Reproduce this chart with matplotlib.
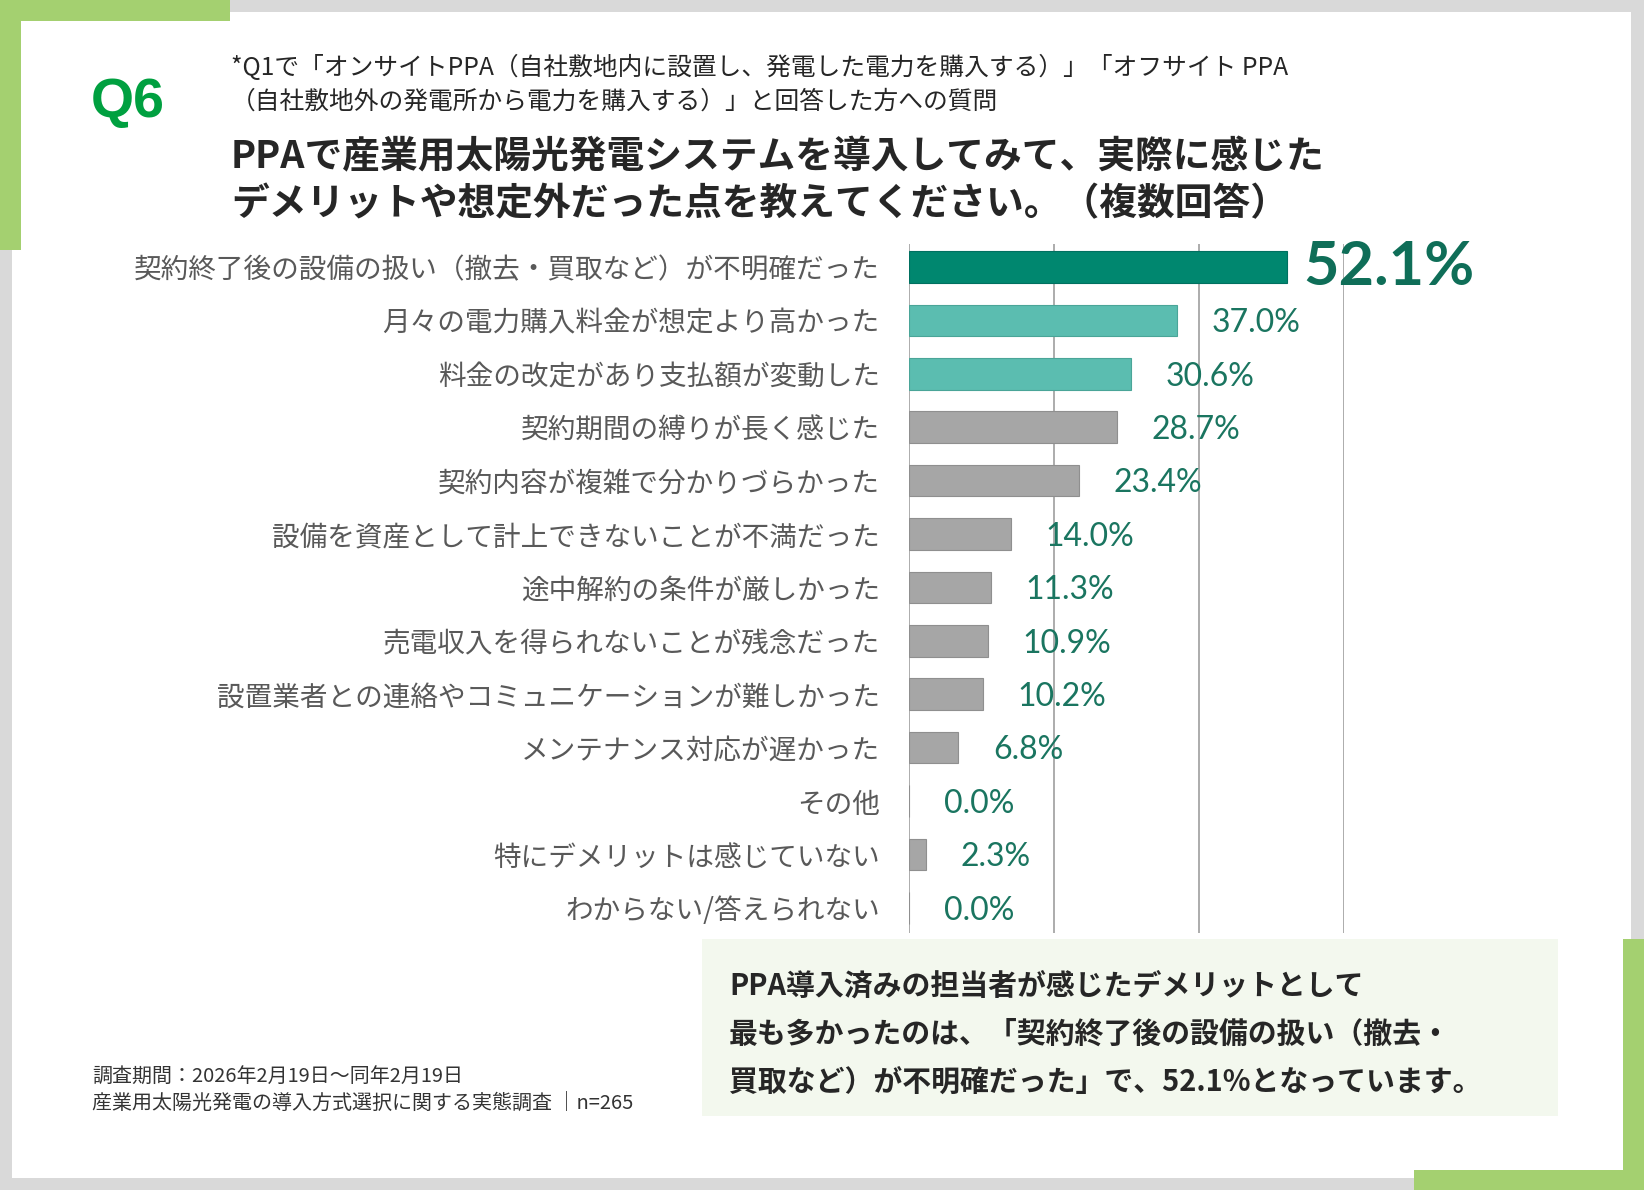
import numpy as np
import matplotlib.pyplot as plt
from matplotlib.patches import Rectangle

plt.rcParams['font.family'] = ['Noto Sans CJK JP', 'DejaVu Sans']

# --- data ---
categories = [
    "契約終了後の設備の扱い（撤去・買取など）が不明確だった",
    "月々の電力購入料金が想定より高かった",
    "料金の改定があり支払額が変動した",
    "契約期間の縛りが長く感じた",
    "契約内容が複雑で分かりづらかった",
    "設備を資産として計上できないことが不満だった",
    "途中解約の条件が厳しかった",
    "売電収入を得られないことが残念だった",
    "設置業者との連絡やコミュニケーションが難しかった",
    "メンテナンス対応が遅かった",
    "その他",
    "特にデメリットは感じていない",
    "わからない/答えられない",
]
values = [52.1, 37.0, 30.6, 28.7, 23.4, 14.0, 11.3, 10.9, 10.2, 6.8, 0.0, 2.3, 0.0]

sub_lines = [
    "*Q1で「オンサイトPPA（自社敷地内に設置し、発電した電力を購入する）」「オフサイト PPA",
    "（自社敷地外の発電所から電力を購入する）」と回答した方への質問",
]
title_lines = [
    "PPAで産業用太陽光発電システムを導入してみて、実際に感じた",
    "デメリットや想定外だった点を教えてください。（複数回答）",
]
note_lines = [
    "調査期間：2026年2月19日～同年2月19日",
    "産業用太陽光発電の導入方式選択に関する実態調査 ｜n=265",
]
callout_lines = [
    "PPA導入済みの担当者が感じたデメリットとして",
    "最も多かったのは、「契約終了後の設備の扱い（撤去・",
    "買取など）が不明確だった」で、52.1%となっています。",
]

# colours
bar_colors = ["#00876f", "#5bbdb0", "#5bbdb0"] + ["#a6a6a6"] * 10
edge_colors = ["#007060", "#4aa598", "#4aa598"] + ["#8f8f8f"] * 10
label_green = "#1a7560"
light_green = "#a4d070"

W, H = 1644, 1190
fig = plt.figure(figsize=(W / 100, H / 100), dpi=100)
fig.patch.set_facecolor("#d9d9d9")


def fx(x):
    return x / W


def fy(y):
    return 1 - y / H


def rect(x0, y0, x1, y1, color):
    fig.add_artist(Rectangle((fx(x0), fy(y1)), fx(x1) - fx(x0), fy(y0) - fy(y1),
                             transform=fig.transFigure, facecolor=color,
                             edgecolor="none", zorder=0))


# background frame
rect(12, 12, 1631, 1178, "white")
rect(0, 0, 230, 21, light_green)
rect(0, 0, 21, 250, light_green)
rect(1623, 939, 1644, 1190, light_green)
rect(1414, 1170, 1644, 1190, light_green)
rect(702, 939, 1558, 1116, "#f3f8ee")

# header
fig.text(fx(91), fy(103), "Q6", fontsize=40, fontweight="bold", color="#00a040",
         family=["Liberation Sans", "DejaVu Sans"], va="center", ha="left")
for i, line in enumerate(sub_lines):
    fig.text(fx(231), fy(68 + 34 * i), line, fontsize=17.8, color="#262626",
             va="center", ha="left")
for i, line in enumerate(title_lines):
    fig.text(fx(231), fy(157 + 47 * i), line, fontsize=27.2, fontweight="bold",
             color="#262626", va="center", ha="left")

# chart
ax = fig.add_axes([fx(909), fy(933), fx(1344) - fx(909), fy(244) - fy(933)])
ax.set_facecolor("none")
y = np.arange(len(categories))
ax.barh(y, values, height=0.59, color=bar_colors, edgecolor=edge_colors,
        linewidth=0.8, zorder=3)
ax.set_xlim(0, 60)
ax.set_ylim(len(categories) - 0.53, -0.43)
ax.set_xticks([0, 20, 40, 60])
ax.xaxis.grid(True, color="#a6a6a6", linewidth=1.3)
ax.set_axisbelow(True)
ax.tick_params(axis="x", length=0, labelbottom=False)
ax.set_yticks(y)
ax.set_yticklabels(categories, fontsize=19.9, color="#595959")
ax.tick_params(axis="y", length=0, pad=21)
for lab in ax.get_yticklabels():
    lab.set_va("center_baseline")
for s in ax.spines.values():
    s.set_visible(False)

for i, v in enumerate(values):
    if i == 0:
        ax.annotate(f"{v:.1f}%", (v, i), xytext=(12, 0), textcoords="offset points",
                    fontsize=44, fontweight="bold", color="#0f6e58",
                    family=["Lato", "DejaVu Sans"], va="center", ha="left",
                    annotation_clip=False, zorder=5)
    else:
        ax.annotate(f"{v:.1f}%", (v, i), xytext=(25, -2), textcoords="offset points",
                    fontsize=23, color=label_green, family=["Lato", "DejaVu Sans"],
                    va="center", ha="left", annotation_clip=False, zorder=5)

# footnote
for i, line in enumerate(note_lines):
    fig.text(fx(92), fy(1077 + 27 * i), line, fontsize=14.4, color="#333333",
             va="center", ha="left")

# callout
for i, line in enumerate(callout_lines):
    fig.text(fx(729), fy(986 + 48 * i), line, fontsize=20.8, fontweight="bold",
             color="#262626", va="center", ha="left")

fig.savefig("out.png", dpi=100, facecolor=fig.get_facecolor())
plt.close(fig)
